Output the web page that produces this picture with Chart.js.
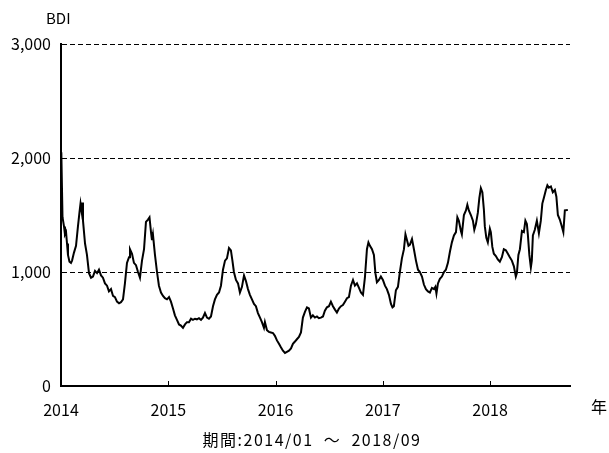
<!DOCTYPE html>
<html>
<head>
<meta charset="utf-8">
<script src="https://cdn.jsdelivr.net/npm/chart.js@4"></script>
<style>
  body { margin: 0; background: #fff; }
</style>
</head>
<body>
<canvas id="graficoBDI" width="609" height="453"></canvas>
<script>
// posiciones en años decimales y valores del índice BDI
const anios = [
  2014.003, 2014.014, 2014.028, 2014.037, 2014.047, 2014.056, 2014.065, 2014.079, 2014.093, 2014.103,
  2014.121, 2014.140, 2014.158, 2014.172, 2014.182, 2014.191, 2014.196, 2014.205, 2014.224, 2014.242,
  2014.261, 2014.280, 2014.298, 2014.317, 2014.336, 2014.354, 2014.373, 2014.391, 2014.410, 2014.429,
  2014.447, 2014.466, 2014.485, 2014.503, 2014.522, 2014.541, 2014.559, 2014.578, 2014.596, 2014.615,
  2014.634, 2014.643, 2014.662, 2014.680, 2014.699, 2014.718, 2014.736, 2014.755, 2014.774, 2014.792,
  2014.811, 2014.825, 2014.839, 2014.848, 2014.857, 2014.876, 2014.895, 2014.913, 2014.932, 2014.951,
  2014.969, 2014.988, 2015.007, 2015.025, 2015.044, 2015.062, 2015.081, 2015.100, 2015.118, 2015.137,
  2015.156, 2015.174, 2015.193, 2015.212, 2015.230, 2015.249, 2015.267, 2015.286, 2015.305, 2015.323,
  2015.342, 2015.361, 2015.379, 2015.398, 2015.417, 2015.435, 2015.454, 2015.473, 2015.491, 2015.510,
  2015.529, 2015.547, 2015.566, 2015.584, 2015.598, 2015.612, 2015.631, 2015.650, 2015.668, 2015.687,
  2015.706, 2015.724, 2015.743, 2015.761, 2015.780, 2015.799, 2015.817, 2015.836, 2015.855, 2015.873,
  2015.892, 2015.901, 2015.920, 2015.938, 2015.957, 2015.976, 2015.994, 2016.013, 2016.032, 2016.050,
  2016.069, 2016.088, 2016.106, 2016.125, 2016.144, 2016.162, 2016.181, 2016.199, 2016.218, 2016.237,
  2016.255, 2016.274, 2016.293, 2016.311, 2016.330, 2016.348, 2016.367, 2016.386, 2016.404, 2016.423,
  2016.442, 2016.460, 2016.479, 2016.498, 2016.516, 2016.535, 2016.554, 2016.572, 2016.591, 2016.610,
  2016.628, 2016.647, 2016.666, 2016.684, 2016.703, 2016.722, 2016.740, 2016.759, 2016.778, 2016.796,
  2016.815, 2016.833, 2016.852, 2016.866, 2016.880, 2016.899, 2016.917, 2016.931, 2016.945, 2016.964,
  2016.982, 2017.001, 2017.020, 2017.038, 2017.057, 2017.076, 2017.090, 2017.103, 2017.122, 2017.141,
  2017.159, 2017.178, 2017.197, 2017.211, 2017.225, 2017.239, 2017.253, 2017.272, 2017.290, 2017.309,
  2017.328, 2017.346, 2017.365, 2017.383, 2017.402, 2017.421, 2017.439, 2017.458, 2017.477, 2017.490,
  2017.500, 2017.514, 2017.532, 2017.551, 2017.570, 2017.588, 2017.607, 2017.626, 2017.644, 2017.663,
  2017.682, 2017.695, 2017.709, 2017.728, 2017.737, 2017.756, 2017.775, 2017.788, 2017.802, 2017.821,
  2017.840, 2017.853, 2017.868, 2017.886, 2017.900, 2017.914, 2017.928, 2017.942, 2017.951, 2017.965,
  2017.979, 2017.998, 2018.007, 2018.021, 2018.035, 2018.054, 2018.072, 2018.091, 2018.110, 2018.128,
  2018.147, 2018.166, 2018.184, 2018.203, 2018.222, 2018.240, 2018.250, 2018.264, 2018.278, 2018.297,
  2018.315, 2018.329, 2018.343, 2018.352, 2018.366, 2018.380, 2018.389, 2018.399, 2018.417, 2018.436,
  2018.455, 2018.473, 2018.487, 2018.501, 2018.520, 2018.534, 2018.548, 2018.567, 2018.585, 2018.604,
  2018.618, 2018.632, 2018.650, 2018.669, 2018.683, 2018.697, 2018.725
];
const bdi = [
  2050, 1480, 1400, 1330, 1350, 1250, 1150, 1090, 1080, 1100,
  1170, 1230, 1400, 1520, 1600, 1540, 1610, 1450, 1250, 1150,
  990, 950, 960, 1010, 990, 1020, 970, 950, 900, 880,
  830, 850, 790, 780, 740, 725, 735, 760, 900, 1080,
  1130, 1200, 1160, 1080, 1060, 1000, 950, 1100, 1200, 1440,
  1460, 1480, 1350, 1280, 1330, 1150, 1000, 880, 820, 790,
  770, 760, 780, 740, 680, 620, 580, 540, 530, 510,
  540, 560, 560, 590, 580, 590, 585, 595, 580, 600,
  640, 600, 590, 610, 700, 760, 800, 820, 880, 1020,
  1100, 1120, 1210, 1190, 1100, 1000, 930, 900, 820, 870,
  970, 920, 850, 800, 760, 720, 700, 640, 600, 560,
  510, 560, 490, 475, 470, 465, 440, 400, 370, 340,
  310, 290, 300, 310, 330, 370, 390, 410, 430, 470,
  600, 650, 690, 680, 600, 620, 600, 610, 595, 600,
  610, 660, 690, 700, 740, 700, 670, 645, 680, 700,
  710, 740, 770, 780, 880, 930, 880, 900, 860, 820,
  800, 950, 1200, 1260, 1230, 1200, 1150, 990, 910, 930,
  960, 930, 880, 850, 800, 720, 690, 700, 840, 870,
  1000, 1120, 1200, 1330, 1280, 1230, 1240, 1290, 1200, 1100,
  1020, 1000, 960, 890, 850, 830, 820, 860, 850, 870,
  810, 900, 940, 960, 1000, 1020, 1080, 1180, 1260, 1320,
  1350, 1480, 1450, 1360, 1330, 1500, 1540, 1590, 1540, 1500,
  1450, 1370, 1420, 1520, 1650, 1735, 1700, 1550, 1400, 1300,
  1260, 1380, 1350, 1220, 1160, 1140, 1110, 1090, 1130, 1200,
  1190, 1160, 1130, 1100, 1050, 960, 990, 1150, 1200, 1360,
  1350, 1450, 1420, 1330, 1150, 1040, 1100, 1320, 1370, 1450,
  1340, 1450, 1600, 1650, 1720, 1760, 1740, 1750, 1700, 1720,
  1660, 1500, 1460, 1400, 1350, 1540, 1545
];
const marcasY = [0, 1000, 2000, 3000];
const marcasX = [2014, 2015, 2016, 2017, 2018];

const fuente = '"Noto Sans CJK JP", "DejaVu Sans", sans-serif';

const textos = {
  id: "textos",
  afterDraw(chart) {
    const ctx = chart.ctx;
    const escalaX = chart.scales.x;
    const abajo = chart.chartArea.bottom;
    ctx.save();
    // marcas cortas hacia dentro en cada año
    ctx.strokeStyle = "#000";
    ctx.lineWidth = 1;
    marcasX.slice(1).forEach(a => {
      const px = Math.round(escalaX.getPixelForValue(a)) + 0.5;
      ctx.beginPath();
      ctx.moveTo(px, abajo);
      ctx.lineTo(px, abajo - 5);
      ctx.stroke();
    });
    ctx.fillStyle = "#000";
    ctx.font = "15px " + fuente;
    ctx.textBaseline = "middle";
    ctx.textAlign = "left";
    ctx.fillText("BDI", 46, 18);
    ctx.font = "16px " + fuente;
    ctx.fillText("年", 591, 407);
    ctx.textAlign = "center";
    ctx.letterSpacing = "1.5px";
    ctx.fillText("期間:2014/01  ～  2018/09", 312, 440);
    ctx.restore();
  }
};

const ctx = document.getElementById("graficoBDI").getContext("2d");
const grafico = new Chart(ctx, {
  type: "line",
  data: {
    datasets: [{
      label: "BDI",
      data: anios.map((a, i) => ({ x: a, y: bdi[i] })),
      borderColor: "#000",
      borderWidth: 2,
      pointRadius: 0,
      tension: 0,
      fill: false
    }]
  },
  options: {
    responsive: false,
    animation: false,
    layout: { padding: { top: 44, right: 39, left: 0, bottom: 0 } },
    plugins: { legend: { display: false }, tooltip: { enabled: false } },
    scales: {
      x: {
        type: "linear",
        min: 2014,
        max: 2018.745,
        afterFit: s => { s.height = 67; },
        grid: { display: false },
        border: { display: true, color: "#000", width: 2 },
        ticks: {
          stepSize: 1,
          includeBounds: false,
          autoSkip: false,
          maxRotation: 0,
          padding: 6,
          color: "#000",
          font: { family: fuente, size: 16 },
          callback: v => Number.isInteger(v) ? String(v) : ""
        }
      },
      y: {
        min: 0,
        max: 3000,
        afterFit: s => { s.width = 61; },
        afterBuildTicks: s => { s.ticks = marcasY.map(v => ({ value: v })); },
        grid: { color: "#000", lineWidth: 1, drawTicks: false },
        border: { display: true, color: "#000", width: 2, dash: [5, 3] },
        ticks: {
          padding: 10,
          color: "#000",
          font: { family: fuente, size: 16 },
          callback: v => v.toLocaleString("en-US")
        }
      }
    }
  },
  plugins: [textos]
});
</script>
</body>
</html>
